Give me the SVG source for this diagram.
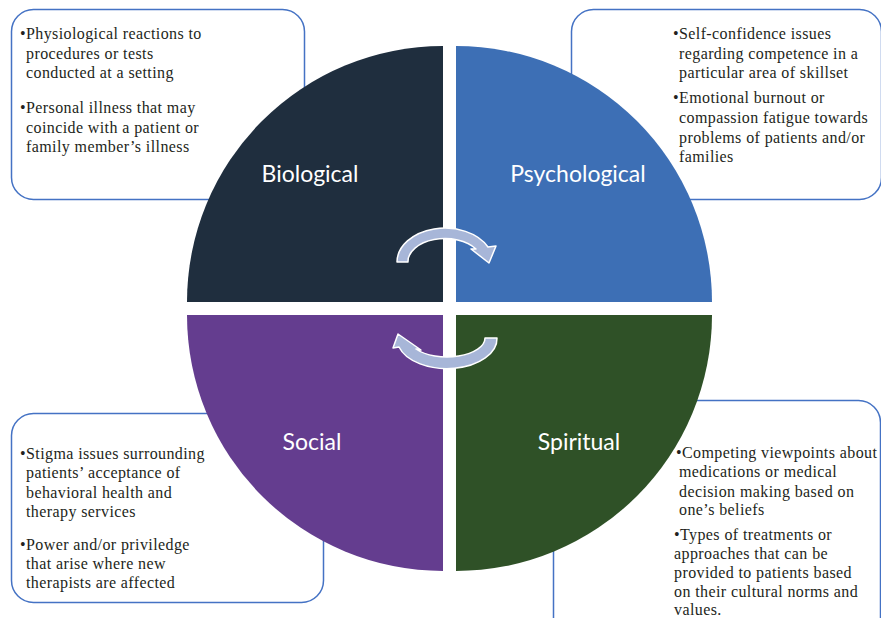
<svg xmlns="http://www.w3.org/2000/svg" width="881" height="618" viewBox="0 0 881 618">
  <style>
    .box { fill: #ffffff; stroke: #4472c4; stroke-width: 1.5; }
    .note { font-family: "Liberation Serif", "Times New Roman", serif; font-size: 16px; letter-spacing: 0.4px; fill: #231f20; }
    .label { font-family: Lato, "Open Sans", sans-serif; font-size: 23px; fill: #ffffff; text-anchor: middle; }
    .cycle { fill: #a7b6d8; stroke: #ffffff; stroke-width: 1.5; stroke-linejoin: round; }
  </style>

  <!-- note boxes sit beneath the circle -->
  <g id="note-biological">
    <rect class="box" x="11.5" y="9.5" width="293" height="190" rx="22"/>
  </g>
  <g id="note-psychological">
    <rect class="box" x="571.5" y="9.5" width="310" height="190" rx="22"/>
  </g>
  <g id="note-social">
    <rect class="box" x="11.5" y="413.5" width="312" height="189" rx="22"/>
  </g>
  <g id="note-spiritual">
    <rect class="box" x="553.5" y="400.5" width="327" height="240" rx="22"/>
  </g>

  <!-- four quadrants of the circle -->
  <g id="biological">
    <path d="M443,302 L187,302 A256,256 0 0 1 443,46 Z" fill="#1f2e3e"/>
    <text class="label" x="310" y="182">Biological</text>
  </g>
  <g id="psychological">
    <path d="M456,302 L456,46 A256,256 0 0 1 712,302 Z" fill="#3d6fb5"/>
    <text class="label" x="578" y="182">Psychological</text>
  </g>
  <g id="social">
    <path d="M443,315 L443,571 A256,256 0 0 1 187,315 Z" fill="#643d8f"/>
    <text class="label" x="312" y="450">Social</text>
  </g>
  <g id="spiritual">
    <path d="M456,315 L712,315 A256,256 0 0 1 456,571 Z" fill="#2f5127"/>
    <text class="label" x="579" y="450">Spiritual</text>
  </g>

  <!-- curved arrows cycling between the quadrants -->
  <g id="connectors">
    <path class="cycle" d="M397,262 A48,34 0 0 1 488,247 L496,246 L489,263 L471,249 L476,249 A37,23 0 0 0 408,262 Z"/>
    <path class="cycle" d="M497,338 A50,30 0 0 1 399,347 L393,348 L398,334 L421,350 L416,349 A38,19 0 0 0 485,338 Z"/>
  </g>

  <!-- note texts -->
  <g id="text-biological" class="note">
    <text x="20" y="39">•Physiological reactions to</text>
    <text x="26" y="59">procedures or tests</text>
    <text x="26" y="78">conducted at a setting</text>
    <text x="20" y="113">•Personal illness that may</text>
    <text x="26" y="133">coincide with a patient or</text>
    <text x="26" y="152">family member’s illness</text>
  </g>
  <g id="text-psychological" class="note">
    <text x="673" y="39">•Self-confidence issues</text>
    <text x="679" y="59">regarding competence in a</text>
    <text x="679" y="78">particular area of skillset</text>
    <text x="673" y="103">•Emotional burnout or</text>
    <text x="679" y="123">compassion fatigue towards</text>
    <text x="679" y="143">problems of patients and/or</text>
    <text x="679" y="162">families</text>
  </g>
  <g id="text-social" class="note">
    <text x="20" y="459">•Stigma issues surrounding</text>
    <text x="26" y="478">patients’ acceptance of</text>
    <text x="26" y="498">behavioral health and</text>
    <text x="26" y="517">therapy services</text>
    <text x="20" y="550">•Power and/or priviledge</text>
    <text x="26" y="569">that arise where new</text>
    <text x="26" y="588">therapists are affected</text>
  </g>
  <g id="text-spiritual" class="note">
    <text x="676" y="458">•Competing viewpoints about</text>
    <text x="679" y="477">medications or medical</text>
    <text x="679" y="497">decision making based on</text>
    <text x="679" y="515">one’s beliefs</text>
    <text x="674" y="540">•Types of treatments or</text>
    <text x="674" y="559">approaches that can be</text>
    <text x="674" y="578">provided to patients based</text>
    <text x="674" y="597">on their cultural norms and</text>
    <text x="674" y="615">values.</text>
  </g>
</svg>
